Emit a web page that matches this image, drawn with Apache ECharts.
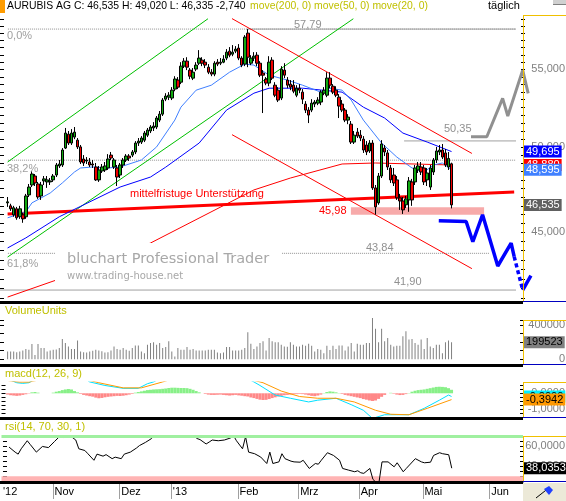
<!DOCTYPE html>
<html>
<head>
<meta charset="utf-8">
<script src="https://cdn.jsdelivr.net/npm/echarts@6/dist/echarts.min.js"></script>
<style>
html, body { margin: 0; padding: 0; background: #fff; }
#chart { width: 566px; height: 501px; }
</style>
</head>
<body>
<div id="chart"></div>
<script>
// trading days, Oct 9 2012 .. mid June 2013 (2 empty slots before the first candle)
var holidays = ['2012-12-24', '2012-12-25', '2012-12-26', '2012-12-31', '2013-01-01', '2013-03-29', '2013-04-01', '2013-05-01'];
var dates = [];
var d = new Date(Date.UTC(2012, 9, 9));
while (dates.length < 172) {
    var s = d.toISOString().slice(0, 10);
    if (d.getUTCDay() !== 0 && d.getUTCDay() !== 6 && holidays.indexOf(s) < 0) dates.push(s);
    d.setUTCDate(d.getUTCDate() + 1);
}
var LEAD = 2;
var monthNames = ['Jan', 'Feb', 'Mrz', 'Apr', 'Mai', 'Jun', 'Jul', 'Aug', 'Sep', 'Okt', 'Nov', 'Dez'];

// [open, close, low, high]
var candles = [
[46.65,46.71,46.42,46.99],[46.48,46.31,46.19,46.60],[45.97,46.37,45.86,46.48],[46.31,45.80,45.69,46.42],[45.86,46.31,45.74,46.48],
[45.97,45.74,45.52,46.08],[45.86,47.05,45.74,47.17],[47.11,47.57,46.99,47.75],[47.69,48.34,47.57,48.52],[48.22,47.81,47.63,48.34],
[47.75,46.99,46.88,47.87],[47.05,47.69,46.82,47.87],[47.93,48.05,47.69,48.22],[47.87,47.99,47.52,48.22],[47.87,47.93,47.69,48.10],
[47.99,48.22,47.87,48.34],[48.28,48.88,48.16,49.00],[48.82,48.94,48.70,49.18],[48.88,49.79,48.76,49.91],[49.91,50.84,49.85,51.16],
[50.77,50.22,50.10,50.97],[50.22,50.84,50.10,51.09],[50.59,50.90,50.46,51.22],[50.40,49.98,49.85,50.53],[49.98,49.06,48.94,50.10],
[49.24,49.00,48.82,49.48],[49.12,49.18,48.94,49.36],[49.06,48.88,48.76,49.30],[48.94,48.88,48.70,49.18],[48.76,47.99,47.93,49.00],
[47.99,48.58,47.87,48.82],[48.52,48.76,48.40,48.94],[48.58,48.82,48.46,49.06],[48.70,49.24,48.58,49.54],[49.48,49.30,49.18,49.67],
[48.76,49.18,48.64,49.30],[48.70,48.16,47.63,48.88],[48.28,48.88,48.10,49.00],[48.88,49.18,48.70,49.30],[49.18,49.42,49.06,49.54],
[49.42,49.30,49.12,49.54],[49.48,49.67,49.36,49.79],[49.67,50.22,49.54,50.34],[50.22,50.34,50.04,50.53],[50.28,50.53,50.16,50.65],
[50.40,50.84,50.28,50.97],[50.71,51.03,50.59,51.16],[50.97,51.22,50.84,51.34],[51.16,51.28,50.97,51.53],[51.22,51.79,51.09,51.92],
[51.66,52.04,51.53,52.24],[52.04,52.95,51.92,53.08],[53.01,53.21,52.88,53.40],[53.14,53.27,52.95,53.47],[53.08,53.60,52.95,53.80],
[53.67,54.34,53.53,54.53],[54.27,53.80,53.67,54.47],[54.13,55.21,54.00,55.48],[55.21,55.55,55.08,55.76],[55.55,55.14,54.94,55.82],
[54.94,54.53,54.33,55.08],[54.40,54.80,54.27,55.08],[55.01,55.28,54.87,55.48],[55.41,55.76,55.28,56.31],[55.62,55.41,55.21,55.82],
[55.48,55.28,55.08,55.69],[55.14,54.80,54.67,55.35],[54.80,54.67,54.53,55.01],[54.67,55.41,54.53,55.55],[55.48,55.35,55.21,55.69],
[55.41,55.48,55.28,55.76],[55.48,55.69,55.41,55.96],[55.76,56.17,55.62,56.38],[56.24,55.96,55.82,56.52],[56.03,56.17,55.89,56.66],
[56.24,56.38,56.10,56.59],[56.45,55.76,55.62,56.73],[55.76,55.28,55.14,55.89],[55.35,57.22,55.21,57.36],[57.50,55.82,55.14,57.79],
[55.41,55.76,55.28,55.96],[55.76,55.89,55.55,56.17],[55.96,55.41,55.21,56.17],[55.41,54.60,54.47,55.55],[54.74,54.60,52.11,54.94],
[54.33,54.07,53.93,54.47],[54.07,55.48,53.86,55.89],[55.62,54.40,54.27,55.82],[53.93,53.27,53.14,54.13],[53.60,52.95,52.82,53.80],
[53.08,55.01,52.95,55.21],[54.94,54.60,54.40,55.41],[54.27,53.93,53.73,54.47],[54.00,53.80,53.60,54.27],[53.93,53.53,53.40,54.27],
[53.27,53.73,53.14,53.93],[53.73,53.60,53.40,54.00],[53.47,53.01,52.69,53.67],[52.69,52.30,52.11,52.88],[52.30,51.98,51.47,52.49],
[52.30,52.75,52.17,53.01],[52.69,52.82,52.49,52.95],[52.75,52.95,52.62,53.14],[52.82,53.47,52.62,53.60],[53.40,53.60,53.27,53.80],
[53.27,54.40,53.14,54.80],[54.40,53.93,53.73,54.80],[53.86,53.47,53.34,54.00],[53.60,53.27,53.14,53.86],[53.14,52.56,51.79,53.34],
[52.69,52.30,52.17,52.95],[52.30,51.66,51.53,52.43],[51.66,51.85,51.40,52.04],[51.40,50.28,50.16,51.60],[50.28,50.71,50.16,50.97],
[50.90,50.65,50.53,51.16],[50.71,50.53,50.34,51.03],[50.46,49.79,49.61,50.65],[50.10,49.67,49.48,50.34],[49.73,50.22,49.61,50.40],
[50.22,47.52,47.40,50.40],[47.52,46.42,45.98,47.69],[46.65,48.22,46.54,48.40],[48.22,50.16,48.10,50.40],[49.91,49.67,49.42,50.10],
[49.61,48.76,48.58,49.79],[48.70,47.99,47.81,48.88],[48.28,47.81,47.63,48.70],[47.99,46.94,46.82,48.22],[46.94,46.76,46.25,47.17],
[46.76,46.25,46.02,46.99],[46.54,46.88,46.36,47.05],[46.82,47.93,46.14,48.16],[47.87,46.82,46.48,48.05],[47.87,48.70,47.69,48.88],
[48.58,48.82,48.40,49.06],[48.76,48.46,48.28,49.06],[48.70,47.87,47.69,48.88],[47.99,48.40,47.63,48.70],[47.57,48.70,47.40,48.88],
[48.46,49.18,48.28,49.30],[49.18,49.73,49.00,49.98],[49.67,49.79,49.48,50.10],[49.79,49.36,49.24,50.16],[49.61,48.88,48.76,49.85],
[48.76,49.275,48.58,49.67],[48.95,46.535,46.335,49.02]
];

var volumes = [
91000,91000,91000,83000,91000,103000,119000,111000,178000,51000,
178000,131000,131000,91000,103000,111000,115000,131000,237000,190000,
150000,119000,119000,218000,91000,83000,79000,91000,99000,111000,
103000,95000,79000,83000,103000,150000,119000,111000,131000,111000,
99000,131000,162000,162000,91000,71000,170000,190000,198000,170000,
190000,131000,142000,210000,91000,32000,131000,111000,111000,142000,
111000,119000,103000,103000,103000,103000,111000,111000,111000,79000,
71000,79000,142000,142000,103000,103000,103000,111000,131000,316000,
182000,119000,150000,190000,210000,103000,249000,210000,198000,198000,
170000,150000,146000,198000,170000,150000,150000,170000,158000,182000,
158000,91000,119000,111000,71000,158000,107000,158000,119000,162000,
162000,103000,150000,190000,91000,182000,170000,170000,190000,190000,
483000,356000,198000,356000,210000,249000,170000,150000,158000,158000,
269000,328000,230000,237000,190000,170000,230000,119000,249000,150000,
131000,170000,170000,71000,198000,218000,199523
];

// moving averages: [candle index, value]
var ma20 = [[0,45.80],[6,46.14],[8,46.65],[14,47.22],[18,47.81],[22,48.46],[24,48.70],[28,48.76],[33,48.70],[37,48.76],[44,49.18],[49,49.98],[55,51.66],[57,52.49],[62,53.60],[67,53.93],[73,54.80],[78,55.35],[81,55.28],[86,54.60],[92,54.27],[97,53.93],[103,53.47],[106,53.73],[110,53.60],[113,52.95],[117,51.66],[123,50.22],[128,49.36],[133,48.70],[137,48.46],[140,48.88],[143,49.00],[146,48.595]];
var ma50 = [[0,44.13],[6,44.68],[17,45.86],[37,47.57],[47,48.16],[52,48.75],[63,50.22],[72,52.30],[81,53.40],[86,53.73],[97,53.73],[110,53.47],[117,52.49],[124,51.79],[130,50.84],[138,50.28],[146,49.695]];
var ma200 = [[0,41.54],[16,42.42],[47,44.40],[81,47.40],[93,48.10],[110,48.94],[121,49.00],[146,48.88]];

var macdLine = [[0,0.90],[3,0.66],[5,0.62],[7,0.66],[10,1.0],[15,1.3],[20,1.45],[24,1.1],[27,0.71],[32,0.49],[38,0.31],[43,0.31],[46,0.60],[48,0.71],[52,1.1],[60,1.6],[70,1.5],[78,1.0],[81,0.71],[83,0.49],[88,-0.11],[93,-0.31],[99,-0.54],[102,-0.43],[108,-0.31],[113,-0.71],[117,-1.06],[120,-1.57],[124,-1.34],[128,-1.34],[132,-1.34],[137,-0.94],[142,-0.43],[145,-0.11],[146,-0.20]];
var macdSignal = [[0,0.80],[2,0.74],[4,0.70],[7,0.70],[12,0.9],[20,1.1],[26,0.85],[30,0.66],[38,0.34],[44,0.34],[51,0.71],[56,1.0],[65,1.3],[75,1.1],[84,0.66],[90,0.14],[96,-0.20],[102,-0.31],[108,-0.31],[114,-0.54],[121,-1.06],[126,-1.31],[132,-1.34],[138,-0.94],[146,-0.3942]];
var macdHist = [
-0.08,-0.12,-0.14,-0.16,-0.14,-0.10,-0.06,-0.02,0.06,0.08,0.04,0,0,0,0,
0.04,0.10,0.14,0.20,0.24,0.27,0.24,0.14,0.06,
-0.04,-0.10,-0.14,-0.18,-0.21,-0.27,-0.31,-0.29,-0.25,-0.22,-0.20,-0.18,-0.16,-0.17,-0.15,-0.12,-0.08,-0.04,
0.04,0.08,0.12,0.16,0.20,0.22,0.24,0.25,0.26,0.28,0.30,0.33,0.35,0.35,0.34,0.33,0.33,0.32,0.28,0.22,0.14,0.06,
0,-0.04,-0.08,-0.10,-0.10,-0.09,-0.08,-0.10,-0.12,-0.14,-0.12,-0.10,-0.13,-0.15,-0.18,-0.20,-0.26,-0.30,
-0.35,-0.40,-0.42,-0.41,-0.36,-0.30,-0.25,-0.20,-0.16,-0.12,-0.10,-0.08,-0.06,-0.05,-0.04,-0.05,-0.08,-0.12,-0.16,-0.18,-0.14,-0.08,
0.02,0.08,0.12,0.10,0.06,0.02,
-0.04,-0.10,-0.14,-0.18,-0.22,-0.26,-0.30,-0.36,-0.40,-0.45,-0.48,-0.45,-0.35,-0.22,-0.10,
0,0.03,-0.03,-0.08,-0.11,-0.10,-0.05,
0.02,0.10,0.16,0.20,0.22,0.24,0.28,0.32,0.36,0.40,0.41,0.40,0.38,0.32,0.22
];
var rsi = [[0,59.0],[2,54.0],[3,52.0],[4,57.3],[6,65.3],[7,61.5],[9,54.0],[11,59.6],[13,58.5],[15,64.6],[17,70.5],[18,68.5],[20,70.5],[22,66.0],[23,57.3],[25,55.6],[26,52.4],[28,45.9],[29,52.0],[31,50.0],[32,51.5],[34,47.5],[35,49.0],[37,47.5],[38,52.0],[40,54.0],[42,58.0],[43,60.5],[45,63.7],[47,67.5],[48,71.0],[50,74.0],[55,75.0],[58,71.0],[59,69.3],[60,70.5],[61,70.2],[62,67.5],[63,66.4],[65,62.1],[66,64.0],[67,66.0],[69,65.3],[71,66.0],[73,68.0],[74,70.5],[75,65.3],[77,57.3],[78,69.3],[79,54.0],[81,52.4],[83,49.1],[85,42.7],[86,54.0],[87,42.7],[89,44.3],[90,52.4],[91,47.5],[93,45.0],[94,44.3],[96,44.0],[97,45.9],[99,37.8],[101,42.7],[102,42.0],[103,46.0],[105,53.4],[107,50.7],[109,45.9],[110,37.8],[112,36.1],[114,34.5],[115,35.5],[116,33.5],[117,32.9],[119,37.8],[120,27.0],[121,24.0],[122,24.0],[123,44.3],[125,44.3],[127,39.4],[128,43.4],[130,34.5],[131,37.8],[134,47.5],[136,44.3],[137,43.4],[139,44.0],[140,50.7],[142,53.4],[143,52.4],[145,51.4],[146,38.0353]];

// drawn annotations, x in chart slots
var fib0Line = [[2.1, 57.79], [169.2, 57.79]];
var peakLine = [[80.7, 57.79], [169.2, 57.79]];
var fib382Line = [[2.1, 49.17], [169.2, 49.17]];
var fib618Line = [[2.1, 43.84], [160.3, 43.84]];
var level5035 = [[132.4, 50.35], [169.2, 50.35]];
var level4190 = [[-0.5, 41.90], [169.2, 41.90]];
var greenUpper = [[2, 49.06], [67.9, 58.53]];
var greenLower = [[2, 43.64], [115.7, 58.53]];
var supportLine = [[2, 46.02], [168.6, 47.28]];
var channelTop = [[75.8, 58.54], [154.7, 49.58]];
var channelBottom = [[75.8, 50.74], [154.7, 43.02]];
var supportZone = [[114.9, 46.40], [158.7, 45.98]];
var grayPath = [[154.4, 50.61], [159.6, 50.61], [164.8, 53.06], [166.5, 51.92], [171.4, 54.94], [173.2, 53.39]];
var bluePath = [[143.8, 45.63], [152.8, 45.59], [155.0, 44.47], [158.2, 45.97], [163.2, 43.16], [167.6, 44.39], [168.6, 43.66]];
var blueDash = [[168.6, 43.66], [171.4, 41.90]];
var blueTail = [[171.4, 41.90], [174.1, 42.65]];

var priceTicks = [41.5,42,42.5,43,43.5,44,44.5,45,45.5,46,46.5,47,47.5,48,48.5,49,49.5,50,50.5,51,51.5,52,52.5,53,53.5,54,54.5,55,55.5,56,56.5,57,57.5,58,58.5];
var priceLabels = [45, 50, 55];
var volumeLabels = [0, 400000];
var macdTicks = [-1.5, -1.25, -1, -0.75, -0.5, -0.25, 0, 0.25, 0.5];
var macdLabels = [-1, -0.5, 0];
var rsiTicks = [30, 35, 40, 45, 50, 55, 60, 65, 70];
var rsiLabels = [40, 60];

var FONT = 'Liberation Sans';
var PRICE_MIN = 41.39, PRICE_MAX = 58.80;

function isMonthStart(i) {
    return i === 0 || dates[i].slice(5, 7) !== dates[i - 1].slice(5, 7);
}
function monthLabel(i) {
    var m = +dates[i].slice(5, 7);
    if (i === 0 || m === 1) return "'" + dates[i].slice(2, 4);
    return monthNames[m - 1];
}
function shift(arr) {
    return arr.map(function (p) { return [p[0] + LEAD, p[1]]; });
}
function de(v, n) {
    return v.toFixed(n).replace('.', ',');
}
function boxLabel(text, bg, fg) {
    return {
        show: true, position: 'end', distance: 1, formatter: text,
        backgroundColor: bg, color: fg, padding: [1, 2, 1, 2],
        fontSize: 11, lineHeight: 10, fontFamily: FONT
    };
}
function valueBox(v, text, bg, fg) {
    return {
        silent: true, symbol: 'none', animation: false,
        lineStyle: { color: 'rgba(0,0,0,0)', width: 1 },
        label: boxLabel(text, bg, fg),
        data: [{ yAxis: v }]
    };
}
function annot(data, color, width, type, z, xi, yi) {
    return {
        type: 'line', xAxisIndex: xi || 1, yAxisIndex: yi || 0, data: data, symbol: 'none',
        silent: true, clip: false, z: z || 2,
        lineStyle: { color: color, width: width, type: type || 'solid' }
    };
}
// projections run past the price panel into the axis strip, so they use a wider twin grid
function projection(data, color, width, type) {
    return annot(data, color, width, type, 4, 7, 7);
}
function maLine(data, color, bg) {
    var last = data[data.length - 1][1];
    return {
        type: 'line', xAxisIndex: 1, yAxisIndex: 0, data: shift(data), symbol: 'none',
        silent: true, z: 2, lineStyle: { color: color, width: 1 },
        markLine: valueBox(last, de(last, 3), bg, '#fff')
    };
}
// right-hand axis labels, placed through the panel's own y scale
function labelSeries(xi, yi, values, digits) {
    return {
        type: 'custom', xAxisIndex: xi, yAxisIndex: yi, silent: true, clip: false, z: 4,
        data: values.map(function (v) { return [0, v]; }),
        encode: { x: 0, y: 1 },
        renderItem: function (params, api) {
            var cs = params.coordSys;
            var v = api.value(1);
            var y = api.coord([0, v])[1];
            return {
                type: 'text', x: cs.x + cs.width + 42, y: y,
                style: {
                    text: digits == null ? String(v) : de(v, digits),
                    fill: '#808080', font: '11px "' + FONT + '"', align: 'right', verticalAlign: 'middle'
                }
            };
        }
    };
}

function txt(x, y, text, color, size, family, align) {
    return {
        type: 'text', x: x, y: y, z: 100, silent: true,
        style: {
            text: text, fill: color, font: size + 'px "' + (family || FONT) + '"',
            textAlign: align || 'left', textVerticalAlign: 'middle', verticalAlign: 'middle'
        }
    };
}
function rect(x, y, w, h, fill, z) {
    return { type: 'rect', shape: { x: x, y: y, width: w, height: h }, style: { fill: fill }, z: z || 100, silent: true };
}
function hline(x1, x2, y, color, w) {
    return { type: 'line', shape: { x1: x1, y1: y, x2: x2, y2: y }, style: { stroke: color, lineWidth: w || 1 }, z: 100, silent: true };
}
function vline(x, y1, y2, color) {
    return { type: 'line', shape: { x1: x, y1: y1, x2: x, y2: y2 }, style: { stroke: color, lineWidth: 1 }, z: 100, silent: true };
}

var YELLOW = '#f0c000', BLUE = '#0000c0';
var graphics = [
    rect(0, 0, 5, 13, '#ff9c00'),
    txt(7, 6, 'AURUBIS AG C: 46,535 H: 49,020 L: 46,335 -2,740', '#000', 10.4),
    txt(250, 6, 'move(200, 0) move(50, 0) move(20, 0)', '#c0c000', 10.4),
    txt(488, 6, 't\u00e4glich', '#000', 11),
    rect(553, 0, 13, 4, '#d0d0d0'), hline(553, 566, 4.5, '#808080'),
    // watermark
    rect(55, 243, 227, 45, '#fff', 90),
    txt(67, 259, 'bluchart Professional Trader', '#a8a8a8', 14.5, 'DejaVu Sans'),
    txt(67, 276, 'www.trading-house.net', '#a8a8a8', 10, 'DejaVu Sans'),
    // level labels
    txt(7, 36, '0,0%', '#a0a0a0', 11),
    txt(7, 169, '38,2%', '#a0a0a0', 11),
    txt(7, 264, '61,8%', '#a0a0a0', 11),
    txt(294, 24.5, '57,79', '#909090', 11),
    txt(444, 129, '50,35', '#909090', 11),
    txt(366, 248, '43,84', '#909090', 11),
    txt(394, 282, '41,90', '#909090', 11),
    txt(319, 211, '45,98', '#ff0000', 11),
    txt(130, 194, 'mittelfristuge Unterst\u00fctzung', '#ff0000', 11),
    // panel titles
    txt(5, 311, 'VolumeUnits', '#c0c000', 11),
    txt(5, 374, 'macd(12, 26, 9)', '#c0c000', 11),
    txt(5, 427, 'rsi(14, 70, 30, 1)', '#c0c000', 11),
    // separators
    rect(0, 301, 523, 3, '#000'), rect(0, 364, 523, 3, '#000'),
    rect(0, 417, 523, 3, '#000'), rect(0, 481, 523, 3, '#000'),
    hline(523, 566, 301.5, BLUE), hline(523, 566, 364.5, BLUE),
    hline(523, 566, 417.5, BLUE), hline(523, 566, 481.5, BLUE),
    // right axis frames
    vline(523.5, 15, 301, YELLOW), hline(523, 566, 15.5, YELLOW),
    vline(523.5, 320, 364, YELLOW), hline(523, 566, 320.5, YELLOW),
    vline(523.5, 382, 417, YELLOW), hline(523, 566, 382.5, YELLOW),
    vline(523.5, 436, 481, YELLOW), hline(523, 566, 436.5, YELLOW),
    // corner button
    rect(523, 483, 43, 18, '#ece9d8'),
    { type: 'line', shape: { x1: 536, y1: 498, x2: 550, y2: 487 }, style: { stroke: '#000', lineWidth: 1 }, z: 101, silent: true },
    { type: 'polygon', shape: { points: [[544, 489], [549, 486], [553, 490], [549, 495]] }, style: { fill: '#2040ff' }, z: 102, silent: true }
];

function sideAxis(grid, pos, min, max, tickCfg) {
    return {
        type: 'value', gridIndex: grid, position: pos, min: min, max: max,
        axisLine: { show: false }, splitLine: { show: false }, axisLabel: { show: false },
        axisTick: Object.assign({ show: true, inside: true, length: pos === 'left' ? 4 : 3, lineStyle: { color: '#000' } }, tickCfg)
    };
}

var option = {
    animation: false,
    backgroundColor: '#fff',
    textStyle: { fontFamily: FONT },
    graphic: graphics,
    grid: [
        { left: 0, top: 15, width: 523, height: 285 },
        { left: 0, top: 320, width: 523, height: 39.3 },
        { left: 0, top: 382, width: 523, height: 35.5 },
        { left: 0, top: 436, width: 523, height: 45 },
        { left: 0, top: 15, width: 523 * 176 / 172, height: 285 }
    ],
    xAxis: [
        { type: 'category', gridIndex: 0, data: dates, show: false },
        { type: 'value', gridIndex: 0, min: -0.5, max: 171.5, show: false },
        { type: 'category', gridIndex: 1, data: dates, show: false },
        { type: 'category', gridIndex: 2, data: dates, show: false },
        { type: 'value', gridIndex: 2, min: -0.5, max: 171.5, show: false },
        {
            type: 'category', gridIndex: 3, data: dates, position: 'bottom',
            axisLine: { show: false },
            axisTick: { show: true, interval: function (i) { return i > 0 && isMonthStart(i); }, length: 18, lineStyle: { color: '#a0a0a0' } },
            axisLabel: {
                interval: function (i) { return isMonthStart(i); },
                formatter: function (v, i) { return monthLabel(i); },
                align: 'left', margin: 5, fontSize: 11, color: '#000', fontFamily: FONT
            }
        },
        { type: 'value', gridIndex: 3, min: -0.5, max: 171.5, show: false },
        { type: 'value', gridIndex: 4, min: -0.5, max: 175.5, show: false }
    ],
    yAxis: [
        { type: 'log', logBase: 10, gridIndex: 0, min: PRICE_MIN, max: PRICE_MAX, show: false },
        sideAxis(1, 'left', 0, 458300, { interval: 50000 }),
        sideAxis(1, 'right', 0, 458300, { interval: 50000 }),
        sideAxis(2, 'left', -1.5125, 0.706, { customValues: macdTicks }),
        sideAxis(2, 'right', -1.5125, 0.706, { customValues: macdTicks }),
        sideAxis(3, 'left', 25.33, 70, { customValues: rsiTicks }),
        sideAxis(3, 'right', 25.33, 70, { customValues: rsiTicks }),
        { type: 'log', logBase: 10, gridIndex: 4, min: PRICE_MIN, max: PRICE_MAX, show: false }
    ],
    series: [
        // support zone
        {
            type: 'line', xAxisIndex: 1, yAxisIndex: 0, data: supportZone, symbol: 'none', silent: true, z: 1,
            lineStyle: { color: 'rgba(0,0,0,0)' },
            markArea: { silent: true, itemStyle: { color: '#f7aaaa' }, data: [[{ coord: supportZone[0] }, { coord: supportZone[1] }]] }
        },
        annot(fib0Line, '#909090', 1, 'dotted'),
        annot(peakLine, '#a0a0a0', 1),
        annot(fib382Line, '#909090', 1, 'dotted'),
        annot(fib618Line, '#909090', 1, 'dotted'),
        annot(level5035, '#a0a0a0', 1),
        annot(level4190, '#a0a0a0', 1),
        annot(greenUpper, '#00c000', 1),
        annot(greenLower, '#00c000', 1),
        annot(channelTop, '#ff0000', 1),
        annot(channelBottom, '#ff0000', 1),
        maLine(ma200, '#ff0000', '#ff0000'),
        annot(supportLine, '#ff0000', 3),
        maLine(ma50, '#0000ff', '#0000ff'),
        maLine(ma20, '#4080ff', '#4080ff'),
        projection(grayPath, '#909090', 3),
        projection(bluePath, '#0000ff', 3.5),
        projection(blueDash, '#0000ff', 3.5, [4, 3]),
        projection(blueTail, '#0000ff', 3.5),
        {
            type: 'candlestick', xAxisIndex: 0, yAxisIndex: 0, z: 3, barWidth: 3,
            data: candles.map(function (c, i) { return [i + LEAD].concat(c); }),
            encode: { x: 0, y: [1, 2, 3, 4] },
            itemStyle: { color: '#10a810', color0: '#f00000', borderColor: '#000', borderColor0: '#000', borderWidth: 1 },
            markLine: valueBox(46.535, '46,535', '#606060', '#fff')
        },
        // price axis ticks
        {
            type: 'custom', xAxisIndex: 1, yAxisIndex: 0, silent: true, clip: false, z: 4,
            data: priceTicks.map(function (v) { return [0, v]; }),
            encode: { x: 0, y: 1 },
            renderItem: function (params, api) {
                var cs = params.coordSys;
                var y = Math.round(api.coord([0, api.value(1)])[1]) + 0.5;
                return {
                    type: 'group', children: [
                        { type: 'line', shape: { x1: cs.x, y1: y, x2: cs.x + 4, y2: y }, style: { stroke: '#000', lineWidth: 1 } },
                        { type: 'line', shape: { x1: cs.x + cs.width - 2, y1: y, x2: cs.x + cs.width + 2, y2: y }, style: { stroke: '#000', lineWidth: 1 } }
                    ]
                };
            }
        },
        labelSeries(1, 0, priceLabels, 3),
        labelSeries(2, 1, volumeLabels, null),
        labelSeries(4, 3, macdLabels, 4),
        labelSeries(6, 5, rsiLabels, 4),
        // volume
        {
            type: 'bar', xAxisIndex: 2, yAxisIndex: 1, barWidth: 1, clip: false,
            data: volumes.map(function (v, i) { return [i + LEAD, v]; }),
            itemStyle: { color: '#808080' },
            markLine: valueBox(199523, '199523', '#808080', '#000')
        },
        // macd
        {
            type: 'bar', xAxisIndex: 3, yAxisIndex: 3, barCategoryGap: '0%',
            data: macdHist.map(function (v, i) { return [i + LEAD, v]; }),
            itemStyle: { color: function (p) { return p.value[1] >= 0 ? '#88f088' : '#ff8888'; } }
        },
        {
            type: 'line', xAxisIndex: 4, yAxisIndex: 3, data: shift(macdLine), symbol: 'none', z: 3,
            lineStyle: { color: '#00e0ff', width: 1 },
            markLine: valueBox(-0.2, '-0,2000', '#00f0ff', '#000')
        },
        {
            type: 'line', xAxisIndex: 4, yAxisIndex: 3, data: shift(macdSignal), symbol: 'none', z: 3,
            lineStyle: { color: '#ff9900', width: 1 },
            markLine: valueBox(-0.3942, '-0,3942', '#ff9900', '#000')
        },
        // rsi
        {
            type: 'line', xAxisIndex: 6, yAxisIndex: 5, data: shift(rsi), symbol: 'none', z: 3,
            lineStyle: { color: '#000', width: 1 },
            markArea: { silent: true, itemStyle: { color: '#ffb4b4' }, data: [[{ yAxis: 25.33 }, { yAxis: 30 }]] },
            markLine: {
                silent: true, symbol: 'none', animation: false,
                data: [
                    { yAxis: 70, lineStyle: { color: '#a0f0a0', width: 3, type: 'solid' }, label: { show: false } },
                    { yAxis: 38.0353, lineStyle: { color: 'rgba(0,0,0,0)' }, label: boxLabel('38,0353', '#000', '#fff') }
                ]
            }
        }
    ]
};

var chart = echarts.init(document.getElementById('chart'));
chart.setOption(option);
</script>
</body>
</html>
